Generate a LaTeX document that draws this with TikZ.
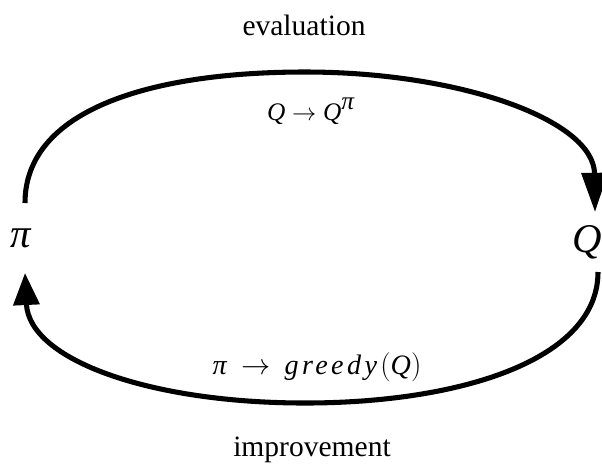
\documentclass[tikz,border=0pt]{standalone}
\usepackage{fontspec}
\setmainfont{Liberation Serif}
\usetikzlibrary{arrows.meta}

\begin{document}
\begin{tikzpicture}[x=0.025cm, y=-0.025cm,
  every node/.style={align=center, inner sep=0pt},
  cycle/.style={line width=3.6pt, -{Triangle[length=#1,width=0.64cm]}},
  bigsym/.style={font=\fontsize{29}{32}\selectfont},
  steplabel/.style={font=\fontsize{21}{25}\selectfont},
  updlabel/.style={font=\fontsize{#1}{22}\selectfont}]
  \useasboundingbox (0,0) rectangle (602,463);
  % policy and value
  \node[bigsym, anchor=base] (pi) at (21,247) {\textit{π}};
  \node[bigsym, anchor=base west] (q) at (572,252) {\textit{Q}};
  % ends of the two arcs
  \coordinate (evalstart) at (25,203);
  \coordinate (evalend) at (595,212);
  \coordinate (imprstart) at (598,272);
  \coordinate (imprend) at (25,273);
  \draw[cycle=0.98cm] (evalstart) .. controls (25,110) and (150,72) .. (305,72)
    .. controls (460,72) and (594,120) .. (evalend);
  \draw[cycle=0.8cm] (imprstart) .. controls (598,360) and (460,403) .. (305,403)
    .. controls (150,403) and (29,360) .. (imprend);
  % labels
  \node[steplabel, anchor=base] (evaltext) at (304,35) {evaluation};
  \node[updlabel=18, anchor=base] (evalupd) at (311,120)
    {$\textit{Q}\rightarrow\textit{Q}^{\textit{π}}$};
  \node[updlabel=20, anchor=base] (imprupd) at (317,374)
    {\textit{π}\ \ $\rightarrow$\ \ {\addfontfeatures{LetterSpace=12}\textit{greedy}}$\big($\textit{Q}$\big)$};
  \node[steplabel, anchor=base] (imprtext) at (312,456) {improvement};
\end{tikzpicture}
\end{document}
